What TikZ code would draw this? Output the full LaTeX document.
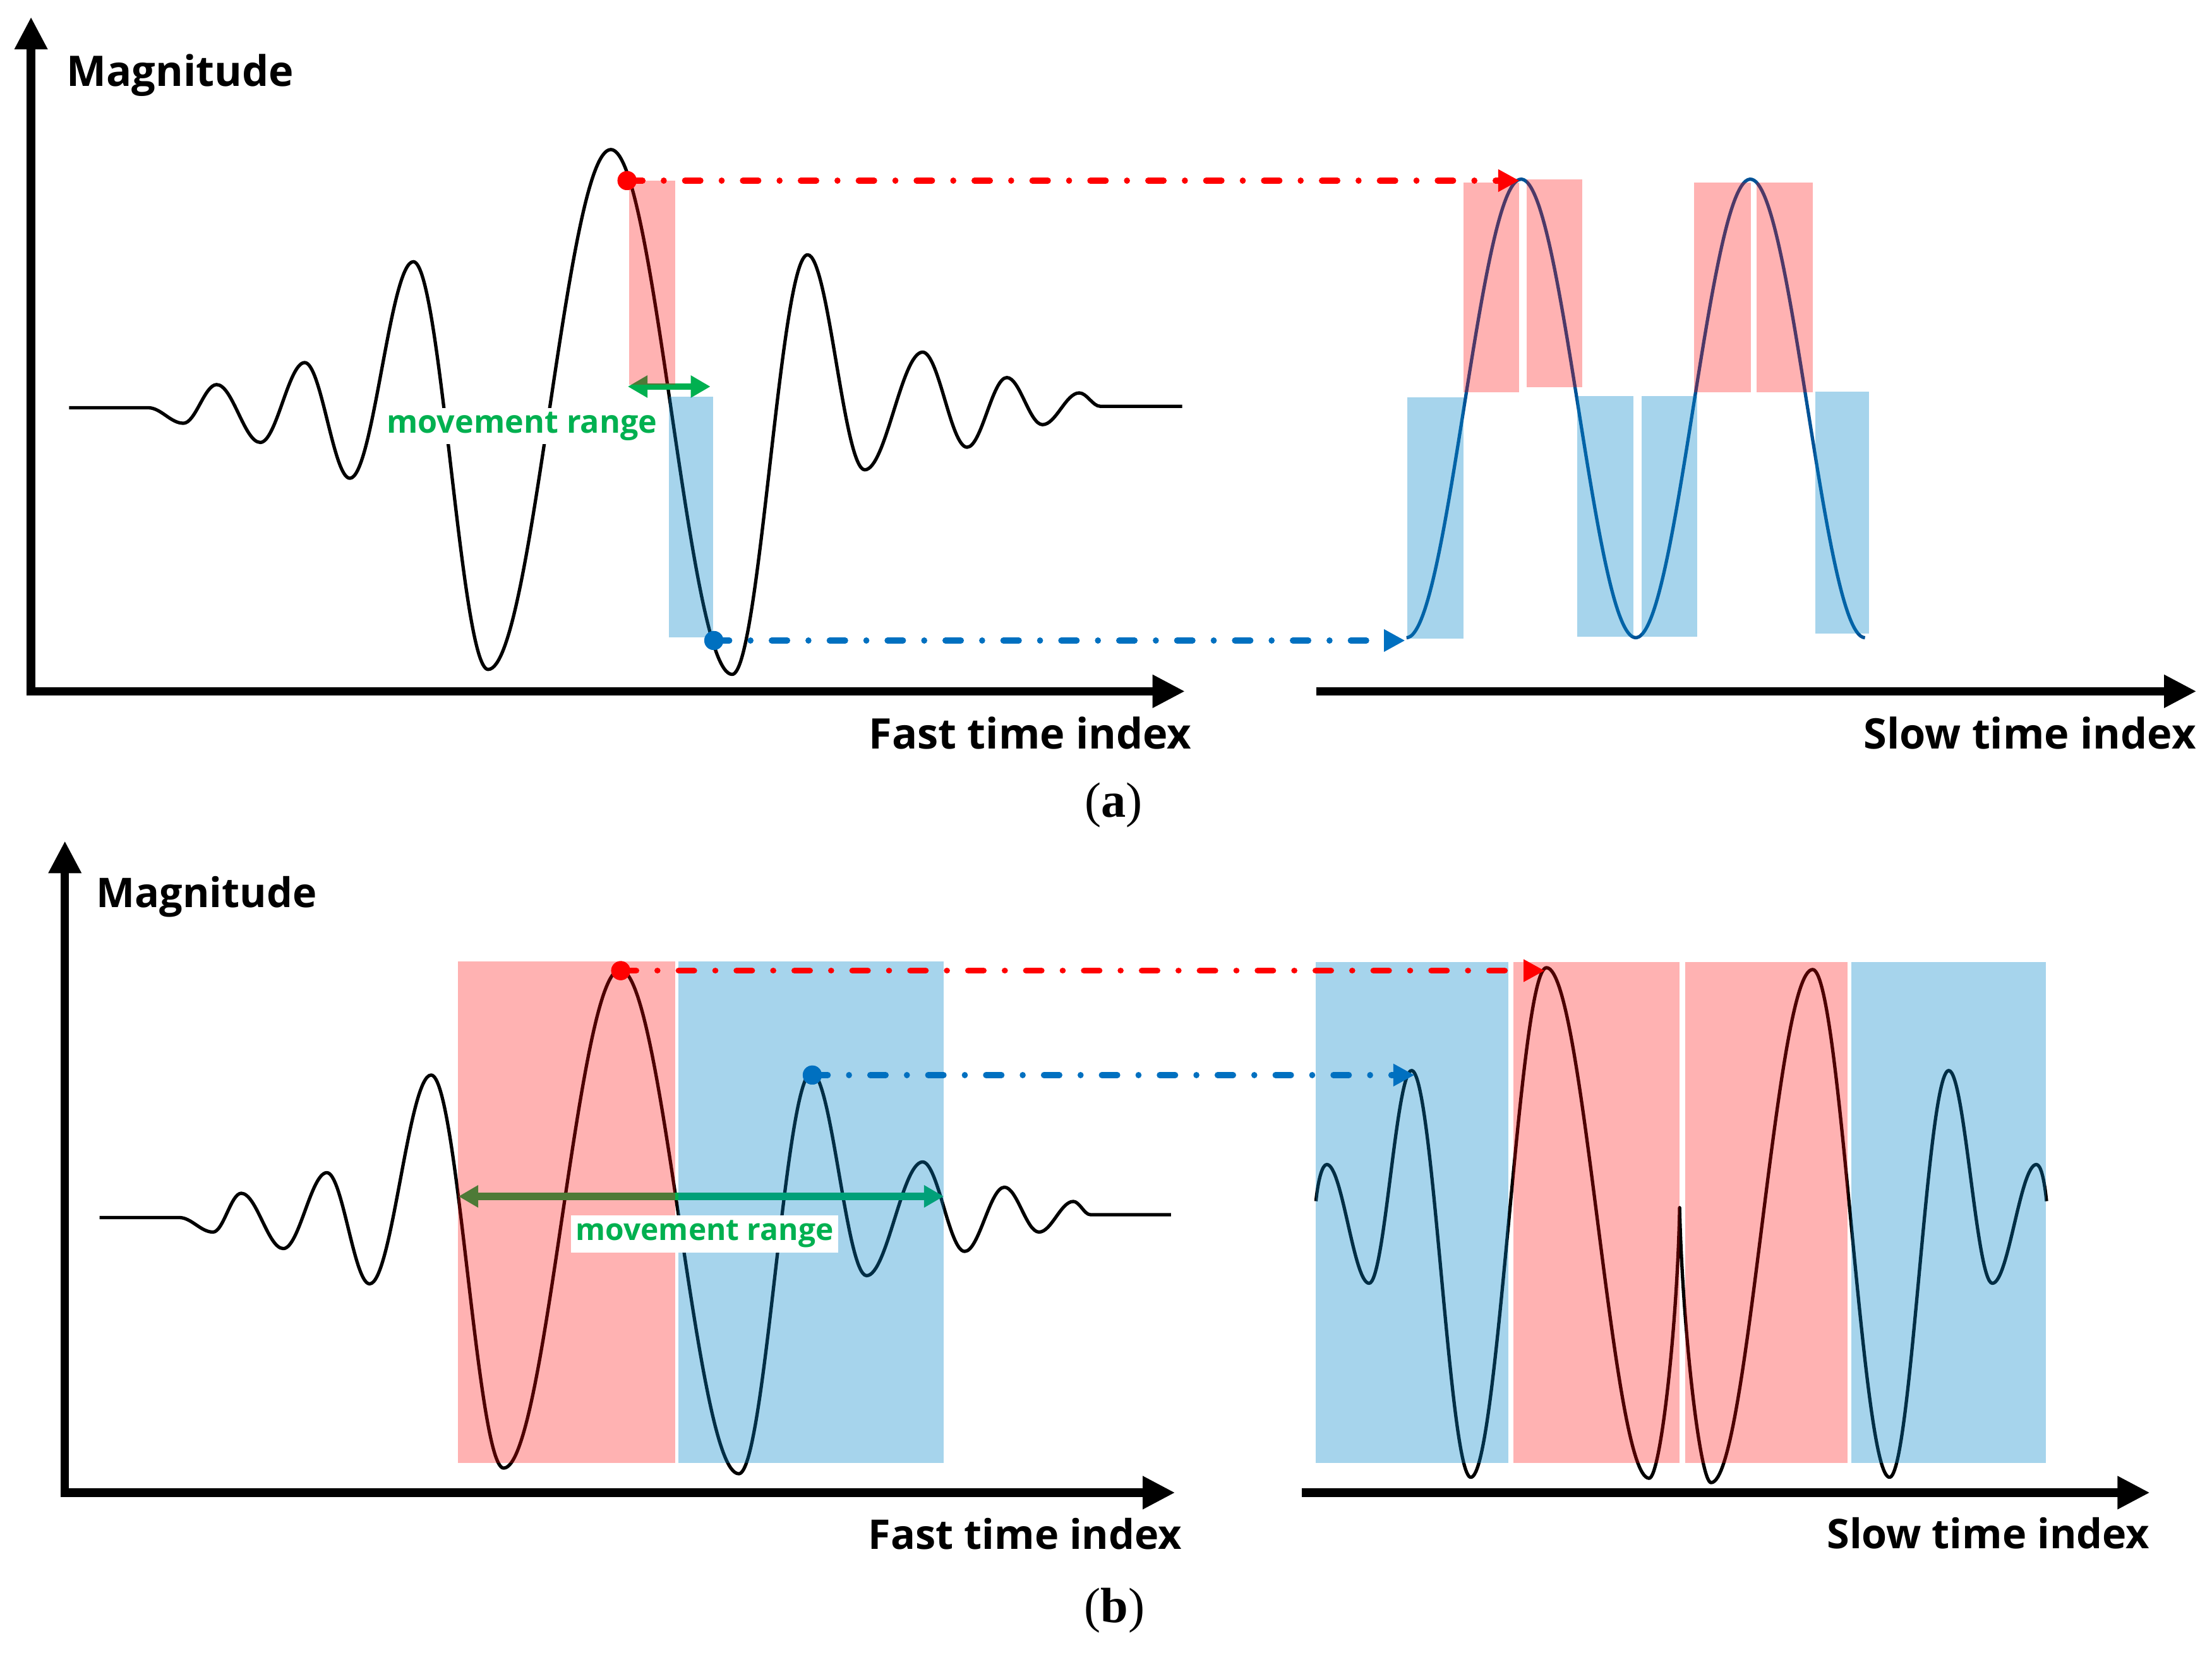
\documentclass[tikz,border=0pt]{standalone}
\usepackage{fontspec}
\setmainfont{Open Sans}
\newfontfamily\capfont{Liberation Serif}
\usetikzlibrary{arrows.meta}
\definecolor{pinkfill}{RGB}{255,0,0}
\definecolor{bluefill}{RGB}{0,132,200}
\definecolor{dred}{RGB}{255,0,0}
\definecolor{dblue}{RGB}{0,112,192}
\definecolor{mgreen}{RGB}{0,176,80}
\definecolor{sinblue}{RGB}{0,82,150}
\begin{document}
\begin{tikzpicture}[x=0.02cm,y=-0.02cm,
  axisline/.style={line width=0.12cm, line join=miter, -{Triangle[length=0.46cm,width=0.44cm]}},
  axisline2/.style={line width=0.12cm, line join=miter, {Triangle[length=0.46cm,width=0.44cm]}-{Triangle[length=0.46cm,width=0.44cm]}},
  wave/.style={line width=1.35pt, line join=round},
  pinkbox/.style={fill=pinkfill, fill opacity=0.3, draw=none},
  bluebox/.style={fill=bluefill, fill opacity=0.35, draw=none},
  dashdot/.style={line width=0.085cm, line cap=round, dash pattern=on 0.22cm off 0.3cm on 0.001cm off 0.3cm},
  tiptri/.style={-{Triangle[length=0.3cm,width=0.3cm]}},
  greenarrow/.style={line width=0.09cm, draw=mgreen, {Triangle[length=0.28cm,width=0.3cm]}-{Triangle[length=0.28cm,width=0.3cm]}},
  labA/.style={font=\bfseries\fontsize{17}{20}\selectfont, inner sep=0pt},
  labB/.style={font=\bfseries\fontsize{16.5}{20}\selectfont, inner sep=0pt},
  mvA/.style={font=\bfseries\fontsize{12.8}{15}\selectfont, text=mgreen, fill=white, inner sep=1.5pt},
  mvB/.style={font=\bfseries\fontsize{12.2}{15}\selectfont, text=mgreen, fill=white, inner sep=2pt},
  capt/.style={font=\capfont\fontsize{20}{24}\selectfont, inner sep=0pt},
  dotnode/.style={circle, inner sep=0pt, minimum size=0.27cm}
]
\useasboundingbox (0,0) rectangle (1568,1173);

%================ (a) =================
% axes
\coordinate (aYtop) at (22,12);
\coordinate (aO) at (22,490);
\coordinate (aXend) at (840,490);
\draw[axisline2] (aYtop) -- (aO) -- (aXend);
\coordinate (aRXs) at (933,490);
\coordinate (aRXe) at (1557,490);
\draw[axisline] (aRXs) -- (aRXe);

% left waveform (a)
\draw[wave] (49,289)
  \foreach \x/\y [remember=\x as \lx (initially 49), remember=\y as \ly (initially 289)] in
  {105/289, 130/300, 153.6/272.6, 184.5/313.6, 216/257, 248/339, 293/185.5, 346/474.5,
   433/106, 519/478, 572.5/180.6, 613/333, 654/249.6, 685.5/317, 713.7/267.6, 739/301,
   765/278.5, 780/288, 838/288}
  { .. controls ({\lx+0.3634*(\x-\lx)},\ly) and ({\x-0.3634*(\x-\lx)},\y) .. (\x,\y) };

% right sine (a)
\draw[wave, sinblue] plot[domain=997:1322, samples=220, smooth] (\x, {289.5+162.5*cos(2.21538*(\x-997))});

% green arrow (a)
\coordinate (gaL) at (445,274);
\coordinate (gaR) at (503.6,274);
\draw[greenarrow] (gaL) -- (gaR);

% boxes (a)
\fill[pinkbox] (446,128) rectangle (478.5,272.6);
\fill[bluebox] (474,281) rectangle (505.5,451.6);
\fill[bluebox] (997.5,281.6) rectangle (1037.5,452.7);
\fill[pinkbox] (1037.5,129.4) rectangle (1077,278);
\fill[pinkbox] (1082,127) rectangle (1121.6,274.3);
\fill[bluebox] (1118,280.6) rectangle (1158,451.3);
\fill[bluebox] (1163.6,280.6) rectangle (1203,451.3);
\fill[pinkbox] (1201,129.4) rectangle (1241,278);
\fill[pinkbox] (1245,129.4) rectangle (1285,278);
\fill[bluebox] (1286.7,277.5) rectangle (1325,449);

% label (a)
\node[mvA] (mvlabA) at (370,302) {movement range};

% dashed connectors (a)
\node[dotnode, fill=dred] (aRed) at (444.5,128) {};
\node[dotnode, fill=dblue] (aBlue) at (506,454) {};
\coordinate (aRedEnd) at (1077,128);
\coordinate (aBlueEnd) at (996,454);
\draw[dashdot, tiptri, dred] (aRed.center) -- (aRedEnd);
\draw[dashdot, tiptri, dblue] (aBlue.center) -- (aBlueEnd);
\node[dotnode, fill=dred] at (aRed) {};
\node[dotnode, fill=dblue] at (aBlue) {};

% texts (a)
\node[labA, anchor=base west] (magA) at (47,61) {Magnitude};
\node[labA, anchor=base east] (fastA) at (845,531) {Fast time index};
\node[labA, anchor=base east] (slowA) at (1557,531) {Slow time index};
\node[capt, anchor=base] (capA) at (789.5,579) {(\textbf{a})};

%================ (b) =================
\coordinate (bYtop) at (46,596);
\coordinate (bO) at (46,1058);
\coordinate (bXend) at (833,1058);
\draw[axisline2] (bYtop) -- (bO) -- (bXend);
\coordinate (bRXs) at (923,1058);
\coordinate (bRXe) at (1524,1058);
\draw[axisline] (bRXs) -- (bRXe);

% left waveform (b)
\draw[wave] (70.6,863)
  \foreach \x/\y [remember=\x as \lx (initially 70.6), remember=\y as \ly (initially 863)] in
  {127/863, 151/873.3, 171/845.8, 200.8/885, 231.7/831.2, 262/910, 305.6/762, 357/1040.6,
   439.6/687.3, 523.7/1044.6, 575.3/760.3, 614.3/904.2, 654/823.6, 683.8/887, 712/841.5,
   736.5/873.3, 760.8/851.6, 773/861, 830/861}
  { .. controls ({\lx+0.3634*(\x-\lx)},\ly) and ({\x-0.3634*(\x-\lx)},\y) .. (\x,\y) };

% right waveform (b)
\draw[wave] (932.8,851.4) .. controls (934.5,835) and (937.5,825.4) .. (940.5,825.4)
  \foreach \x/\y [remember=\x as \lxa (initially 940.5), remember=\y as \lya (initially 825.4)] in
  {970.5/909.6, 1000.6/758.8, 1042.6/1047.1, 1096.2/685.9, 1169/1047.8}
  { .. controls ({\lxa+0.3634*(\x-\lxa)},\lya) and ({\x-0.3634*(\x-\lxa)},\y) .. (\x,\y) }
  .. controls (1177,1047.8) and (1189,940) .. (1190.6,856)
  .. controls (1192.5,940) and (1205,1050.9) .. (1212.9,1050.9)
  \foreach \x/\y [remember=\x as \lxb (initially 1212.9), remember=\y as \lyb (initially 1050.9)] in
  {1284.9/687.2, 1339.4/1047.1, 1381.4/758.8, 1412.3/909.6, 1443.5/825.4}
  { .. controls ({\lxb+0.3634*(\x-\lxb)},\lyb) and ({\x-0.3634*(\x-\lxb)},\y) .. (\x,\y) }
  .. controls (1446.5,825.4) and (1449,835) .. (1450.7,851.4);

% green arrow (b)
\coordinate (gbL) at (325,848);
\coordinate (gbR) at (669,848);
\draw[greenarrow, line width=0.11cm] (gbL) -- (gbR);

% boxes (b)
\fill[pinkbox] (324.5,681.5) rectangle (478.7,1036.8);
\fill[bluebox] (481,681.5) rectangle (669,1036.8);
\fill[bluebox] (932.7,681.8) rectangle (1069.2,1036.8);
\fill[pinkbox] (1073,681.8) rectangle (1190.6,1036.8);
\fill[pinkbox] (1194.4,681.8) rectangle (1309.7,1036.8);
\fill[bluebox] (1312.4,681.8) rectangle (1450,1036.8);

% label (b)
\node[mvB] (mvlabB) at (499.5,874.5) {movement range};

% dashed connectors (b)
\node[dotnode, fill=dred] (bRed) at (440,688) {};
\node[dotnode, fill=dblue] (bBlue) at (575.8,762) {};
\coordinate (bRedEnd) at (1095,688);
\coordinate (bBlueEnd) at (1002.7,764);
\draw[dashdot, tiptri, dred] (bRed.center) -- (bRedEnd);
\draw[dashdot, tiptri, dblue] (bBlue.center) -- (bBlue.center -| bBlueEnd);
\node[dotnode, fill=dred] at (bRed) {};
\node[dotnode, fill=dblue] at (bBlue) {};

% texts (b)
\node[labB, anchor=base west] (magB) at (68,643) {Magnitude};
\node[labB, anchor=base east] (fastB) at (838,1098) {Fast time index};
\node[labB, anchor=base east] (slowB) at (1524,1097.5) {Slow time index};
\node[capt, anchor=base] (capB) at (790,1150) {(\textbf{b})};
\end{tikzpicture}
\end{document}
